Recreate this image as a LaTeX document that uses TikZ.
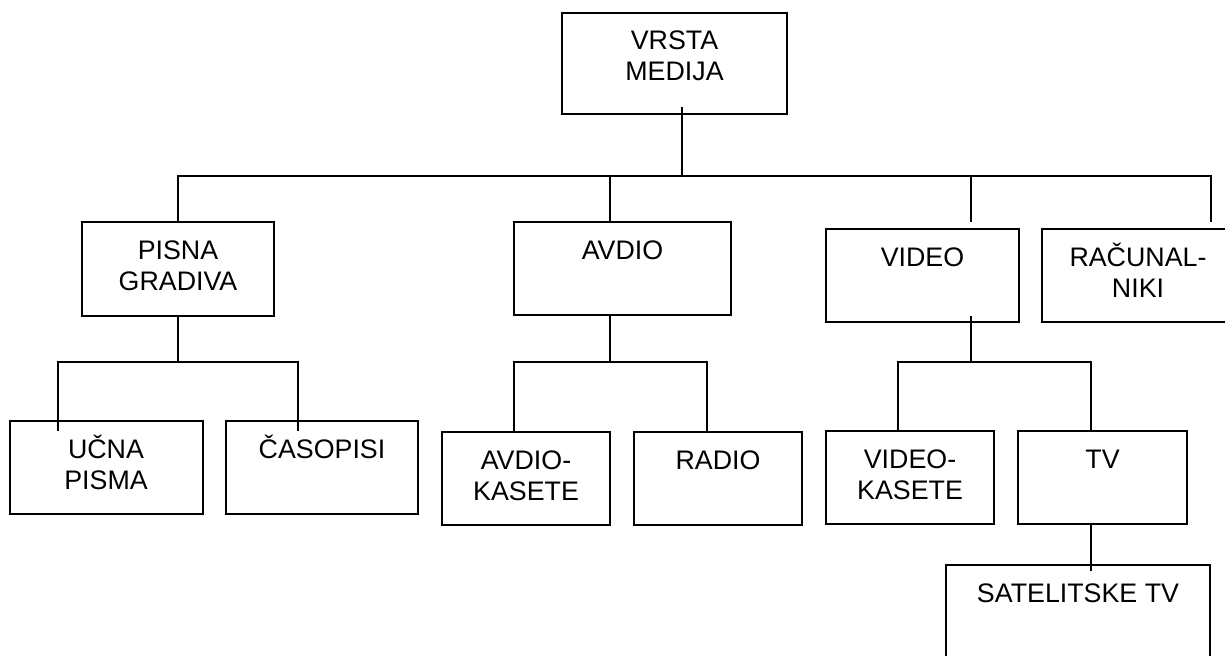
\documentclass[tikz,border=0pt]{standalone}
\usepackage{fontspec}
\setmainfont{Liberation Sans}
\usetikzlibrary{positioning}
\newcommand{\ts}{\rule{0pt}{12.5pt}}

\begin{document}
\begin{tikzpicture}[x=0.5pt, y=-0.5pt,
  box/.style={rectangle, draw=black, line width=1pt, inner sep=0pt},
  txt/.style={anchor=north, yshift=-6.4pt, inner sep=0pt, align=center, font=\fontsize{13.4}{15.8}\selectfont},
  line/.style={draw, line width=1pt}]
\useasboundingbox (0,0) rectangle (1225,655);
\clip (0,0) rectangle (1225,655);

\node [box, minimum width=112.5pt, minimum height=50.5pt, label={[txt, yshift=0.6pt]north:{\ts VRSTA\\MEDIJA}}] (root) at (674.5,63.5) {};
\node [box, minimum width=96pt, minimum height=47pt, label={[txt]north:{\ts PISNA\\GRADIVA}}] (pisna) at (178,269) {};
\node [box, minimum width=108.5pt, minimum height=46.5pt, label={[txt]north:{\ts AVDIO}}] (avdio) at (622.5,268.5) {};
\node [box, minimum width=96.5pt, minimum height=46.5pt, label={[txt]north:{\ts VIDEO}}] (video) at (922.5,275.5) {};
\node [box, minimum width=96pt, minimum height=46.5pt, label={[txt]north:{\ts RAČUNAL-\\NIKI}}] (racun) at (1138,275.5) {};
\node [box, minimum width=96.5pt, minimum height=46.5pt, label={[txt]north:{\ts UČNA\\PISMA}}] (ucna) at (106,467.5) {};
\node [box, minimum width=96pt, minimum height=46.5pt, label={[txt]north:{\ts ČASOPISI}}] (casopisi) at (322,467.5) {};
\node [box, minimum width=84pt, minimum height=46.5pt, label={[txt]north:{\ts AVDIO-\\KASETE}}] (avdiokas) at (526,478.5) {};
\node [box, minimum width=84pt, minimum height=46.5pt, label={[txt]north:{\ts RADIO}}] (radio) at (718,478.5) {};
\node [box, minimum width=84pt, minimum height=46.5pt, label={[txt]north:{\ts VIDEO-\\KASETE}}] (videokas) at (910,477.5) {};
\node [box, minimum width=84.5pt, minimum height=46.5pt, label={[txt]north:{\ts TV}}] (tv) at (1102.5,477.5) {};
\node [box, minimum width=132pt, minimum height=60pt, label={[txt]north:{\ts SATELITSKE TV}}] (sat) at (1078,625) {};

% junctions of the bus lines
\coordinate (bus) at (682,176);
\coordinate (bp) at (178,362);
\coordinate (ba) at (610,362);
\coordinate (bv) at (971,362);

\begin{scope}[every path/.style=line]
  \path ([xshift=3.75pt,yshift=4pt]root.south) -- (bus);
  \path (pisna.north) |- (bus) -| ([xshift=36.5pt,yshift=3pt]racun.north);
  \path ([xshift=-6.25pt]avdio.north) -- ([xshift=-6.25pt]avdio.north |- bus);
  \path ([xshift=24.25pt,yshift=3pt]video.north) -- ([xshift=24.25pt]video.north |- bus);
  \path (pisna.south) -- (bp);
  \path ([xshift=-24pt,yshift=-5.5pt]ucna.north) |- (bp) -| ([xshift=-12pt,yshift=-5.5pt]casopisi.north);
  \path ([xshift=-6.25pt]avdio.south) -- (ba);
  \path ([xshift=-6pt]avdiokas.north) |- (ba) -| ([xshift=-5.5pt]radio.north);
  \path ([xshift=24.25pt,yshift=3.5pt]video.south) -- (bv);
  \path ([xshift=-6pt]videokas.north) |- (bv) -| ([xshift=-5.75pt]tv.north);
  \path ([xshift=-5.75pt]tv.south) -- ([xshift=-5.75pt,yshift=-3.5pt]sat.north -| tv.south);
\end{scope}
\end{tikzpicture}
\end{document}
